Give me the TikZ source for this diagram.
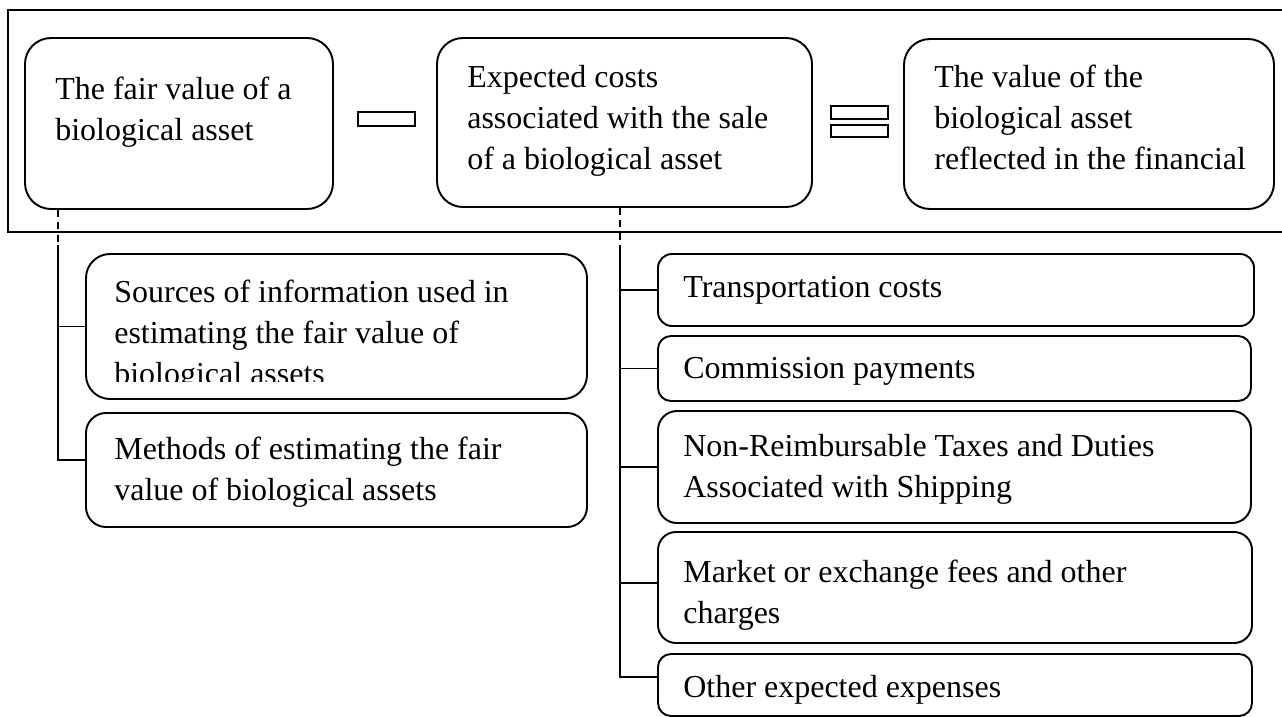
\documentclass[tikz,border=0pt]{standalone}
\usepackage{fontspec}
\setmainfont{Liberation Serif}
\usetikzlibrary{fit}
\newcommand{\boxlines}[1]{\parbox[t]{12cm}{\raggedright #1}}

\begin{document}
\begin{tikzpicture}[
    x=0.02cm, y=-0.02cm,
    box/.style={rectangle, draw, line width=1.1pt, inner sep=0pt},
    txt/.style={anchor=base west, inner sep=0pt, font=\fontsize{18.2}{23.4}\selectfont},
    link/.style={line width=0.6pt},
    dashlink/.style={line width=0.6pt, dash pattern=on 4pt off 3pt},
    sign/.style={line width=1.1pt}
]
\useasboundingbox (0,0) rectangle (1282,717);

% Top row: the formula
\draw[line width=1.1pt] (1295,10) -- (8,10) -- (8,232) -- (1295,232);

\node[box, fit={(25,38) (333,209)}, rounded corners=0.52cm] (b1) {};
\node[box, fit={(437,38) (812,207)}, rounded corners=0.52cm] (b2) {};
\node[box, fit={(904,39) (1274,209)}, rounded corners=0.52cm] (b3) {};

\node[txt] (t1) at (55,99) {\boxlines{The fair value of a\\biological asset}};
\node[txt] (t2) at (467,87) {\boxlines{Expected costs\\associated with the sale\\of a biological asset}};
\node[txt] (t3) at (934,87) {\boxlines{The value of the\\biological asset\\reflected in the financial}};

% minus and equals signs
\draw[sign] (358,112) rectangle (415,126);
\draw[sign] (831,106) rectangle (888,119);
\draw[sign] (831,125) rectangle (888,137);

% Left side: fair value
\node[box, fit={(86,254) (587,399)}, rounded corners=0.48cm] (src) {};
\node[box, fit={(86,413) (587,527)}, rounded corners=0.4cm] (mth) {};

\begin{scope}
\clip (86,254) rectangle (587,381);
\node[txt] (srct) at (114,302) {\boxlines{Sources of information used in\\estimating the fair value of\\biological assets}};
\end{scope}
\node[txt] (mtht) at (114,459) {\boxlines{Methods of estimating the fair\\value of biological assets}};

% Right side: costs of sale
\node[box, fit={(658,254) (1254,326)}, rounded corners=0.28cm] (trn) {};
\node[box, fit={(658,336) (1251,401)}, rounded corners=0.26cm] (com) {};
\node[box, fit={(658,411) (1251,523)}, rounded corners=0.38cm] (ntx) {};
\node[box, fit={(658,532) (1252,643)}, rounded corners=0.36cm] (mkt) {};
\node[box, fit={(658,654) (1252,716)}, rounded corners=0.26cm] (oth) {};

\node[txt] (trnt) at (683,297) {Transportation costs};
\node[txt] (comt) at (683,378) {Commission payments};
\node[txt] (ntxt) at (683,456) {\boxlines{Non-Reimbursable Taxes and Duties\\Associated with Shipping}};
\node[txt] (mktt) at (683,582) {\boxlines{Market or exchange fees and other\\charges}};
\node[txt] (otht) at (683,697) {Other expected expenses};

% Connections
\coordinate (j1) at (58,245);
\draw[dashlink] (b1.south -| j1) -- (j1);
\draw[link] (j1) |- (src.west);
\draw[link] (j1) |- ([yshift=0.2cm]mth.west);

\coordinate (j2) at (620,245);
\draw[dashlink] (b2.south -| j2) -- (j2);
\draw[link] (j2) |- (trn.west);
\draw[link] (j2) |- (com.west);
\draw[link] (j2) |- (ntx.west);
\draw[link] (j2) |- ([yshift=0.09cm]mkt.west);
\draw[link] (j2) |- ([yshift=0.16cm]oth.west);

\end{tikzpicture}
\end{document}
